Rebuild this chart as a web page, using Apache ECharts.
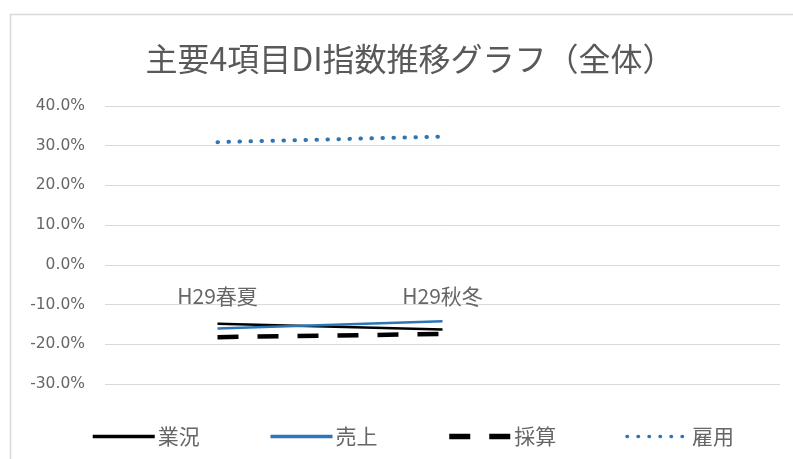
<!DOCTYPE html>
<html>
<head>
<meta charset="utf-8">
<script src="https://cdn.jsdelivr.net/npm/echarts@6/dist/echarts.min.js"></script>
<style>
  html, body { margin: 0; padding: 0; background: #fff; }
  #chart { width: 793px; height: 459px; }
</style>
</head>
<body>
<div id="chart"></div>
<script>
// Survey periods (third slot reserved for the next period)
const categories = ['H29春夏', 'H29秋冬', ''];

// DI values (%) per item
const gyokyo = [-14.8, -16.3, null];   // 業況
const uriage = [-16.0, -14.2, null];   // 売上
const saisan = [-18.2, -17.4, null];   // 採算
const koyo   = [30.9, 32.3, null];     // 雇用

const seriesNames = ['業況', '売上', '採算', '雇用'];

// Y-axis range and step (%)
const yMin = -30, yMax = 40, yStep = 10;

const font = '"Noto Sans CJK JP", "Noto Sans", sans-serif';
const numFont = '"DejaVu Sans", sans-serif';
const textColor = '#666';
const blue = '#2E75B6';

const lineStyles = {
  '業況': { color: '#000', width: 2.5 },
  '売上': { color: blue, width: 2.5 },
  '採算': { color: '#000', width: 4.5, type: [21, 19] },
  '雇用': { color: blue, width: 4, type: [0.5, 10.5], cap: 'round' }
};
const seriesData = { '業況': gyokyo, '売上': uriage, '採算': saisan, '雇用': koyo };

const chart = echarts.init(document.getElementById('chart'));

const gridTop = 106, gridBottom = 75;

chart.setOption({
  animation: false,
  backgroundColor: '#fff',
  textStyle: { fontFamily: font },
  graphic: [{
    type: 'rect',
    shape: { x: 10.5, y: 14.5, width: 800, height: 460 },
    style: { fill: 'none', stroke: '#d9d9d9', lineWidth: 1.5 },
    silent: true
  }],
  title: {
    text: '主要4項目DI指数推移グラフ（全体）',
    left: 405,
    top: 38,
    textAlign: 'center',
    textStyle: { fontFamily: font, fontSize: 32, fontWeight: 'normal', color: '#595959' }
  },
  grid: { left: 105, right: 13, top: gridTop, bottom: gridBottom, containLabel: false },
  legend: {
    left: 86,
    top: 421,
    itemWidth: 62,
    itemHeight: 21,
    itemGap: 69,
    data: seriesNames.map(n => ({
      name: n,
      lineStyle: { width: n === '採算' ? 5.5 : 3.5 }
    })),
    itemStyle: { opacity: 0 },
    textStyle: { fontFamily: font, fontSize: 21, color: textColor, padding: [0, 0, 0, -2] }
  },
  xAxis: {
    type: 'category',
    data: categories,
    boundaryGap: true,
    axisLine: { show: false, onZero: false },
    axisTick: { show: false },
    axisLabel: { margin: 21, fontFamily: font, fontSize: 21, color: textColor },
    splitLine: { show: false }
  },
  yAxis: {
    type: 'value',
    min: yMin,
    max: yMax,
    interval: yStep,
    axisLine: { show: false },
    axisTick: { show: false },
    axisLabel: {
      margin: 20,
      fontFamily: numFont,
      fontSize: 15.5,
      color: textColor,
      formatter: v => v.toFixed(1) + '%'
    },
    splitLine: { lineStyle: { color: '#d9d9d9', width: 1 } }
  },
  series: seriesNames.map(n => ({
    name: n,
    type: 'line',
    data: seriesData[n],
    symbol: 'none',
    lineStyle: lineStyles[n],
    itemStyle: { color: lineStyles[n].color }
  }))
});

// Category labels sit on the 0% line: shift the x axis up from the grid bottom to y = 0
const yBottomPx = chart.convertToPixel({ yAxisIndex: 0 }, yMin);
const yZeroPx = chart.convertToPixel({ yAxisIndex: 0 }, 0);
chart.setOption({ xAxis: { offset: -(yBottomPx - yZeroPx) } });
</script>
</body>
</html>
